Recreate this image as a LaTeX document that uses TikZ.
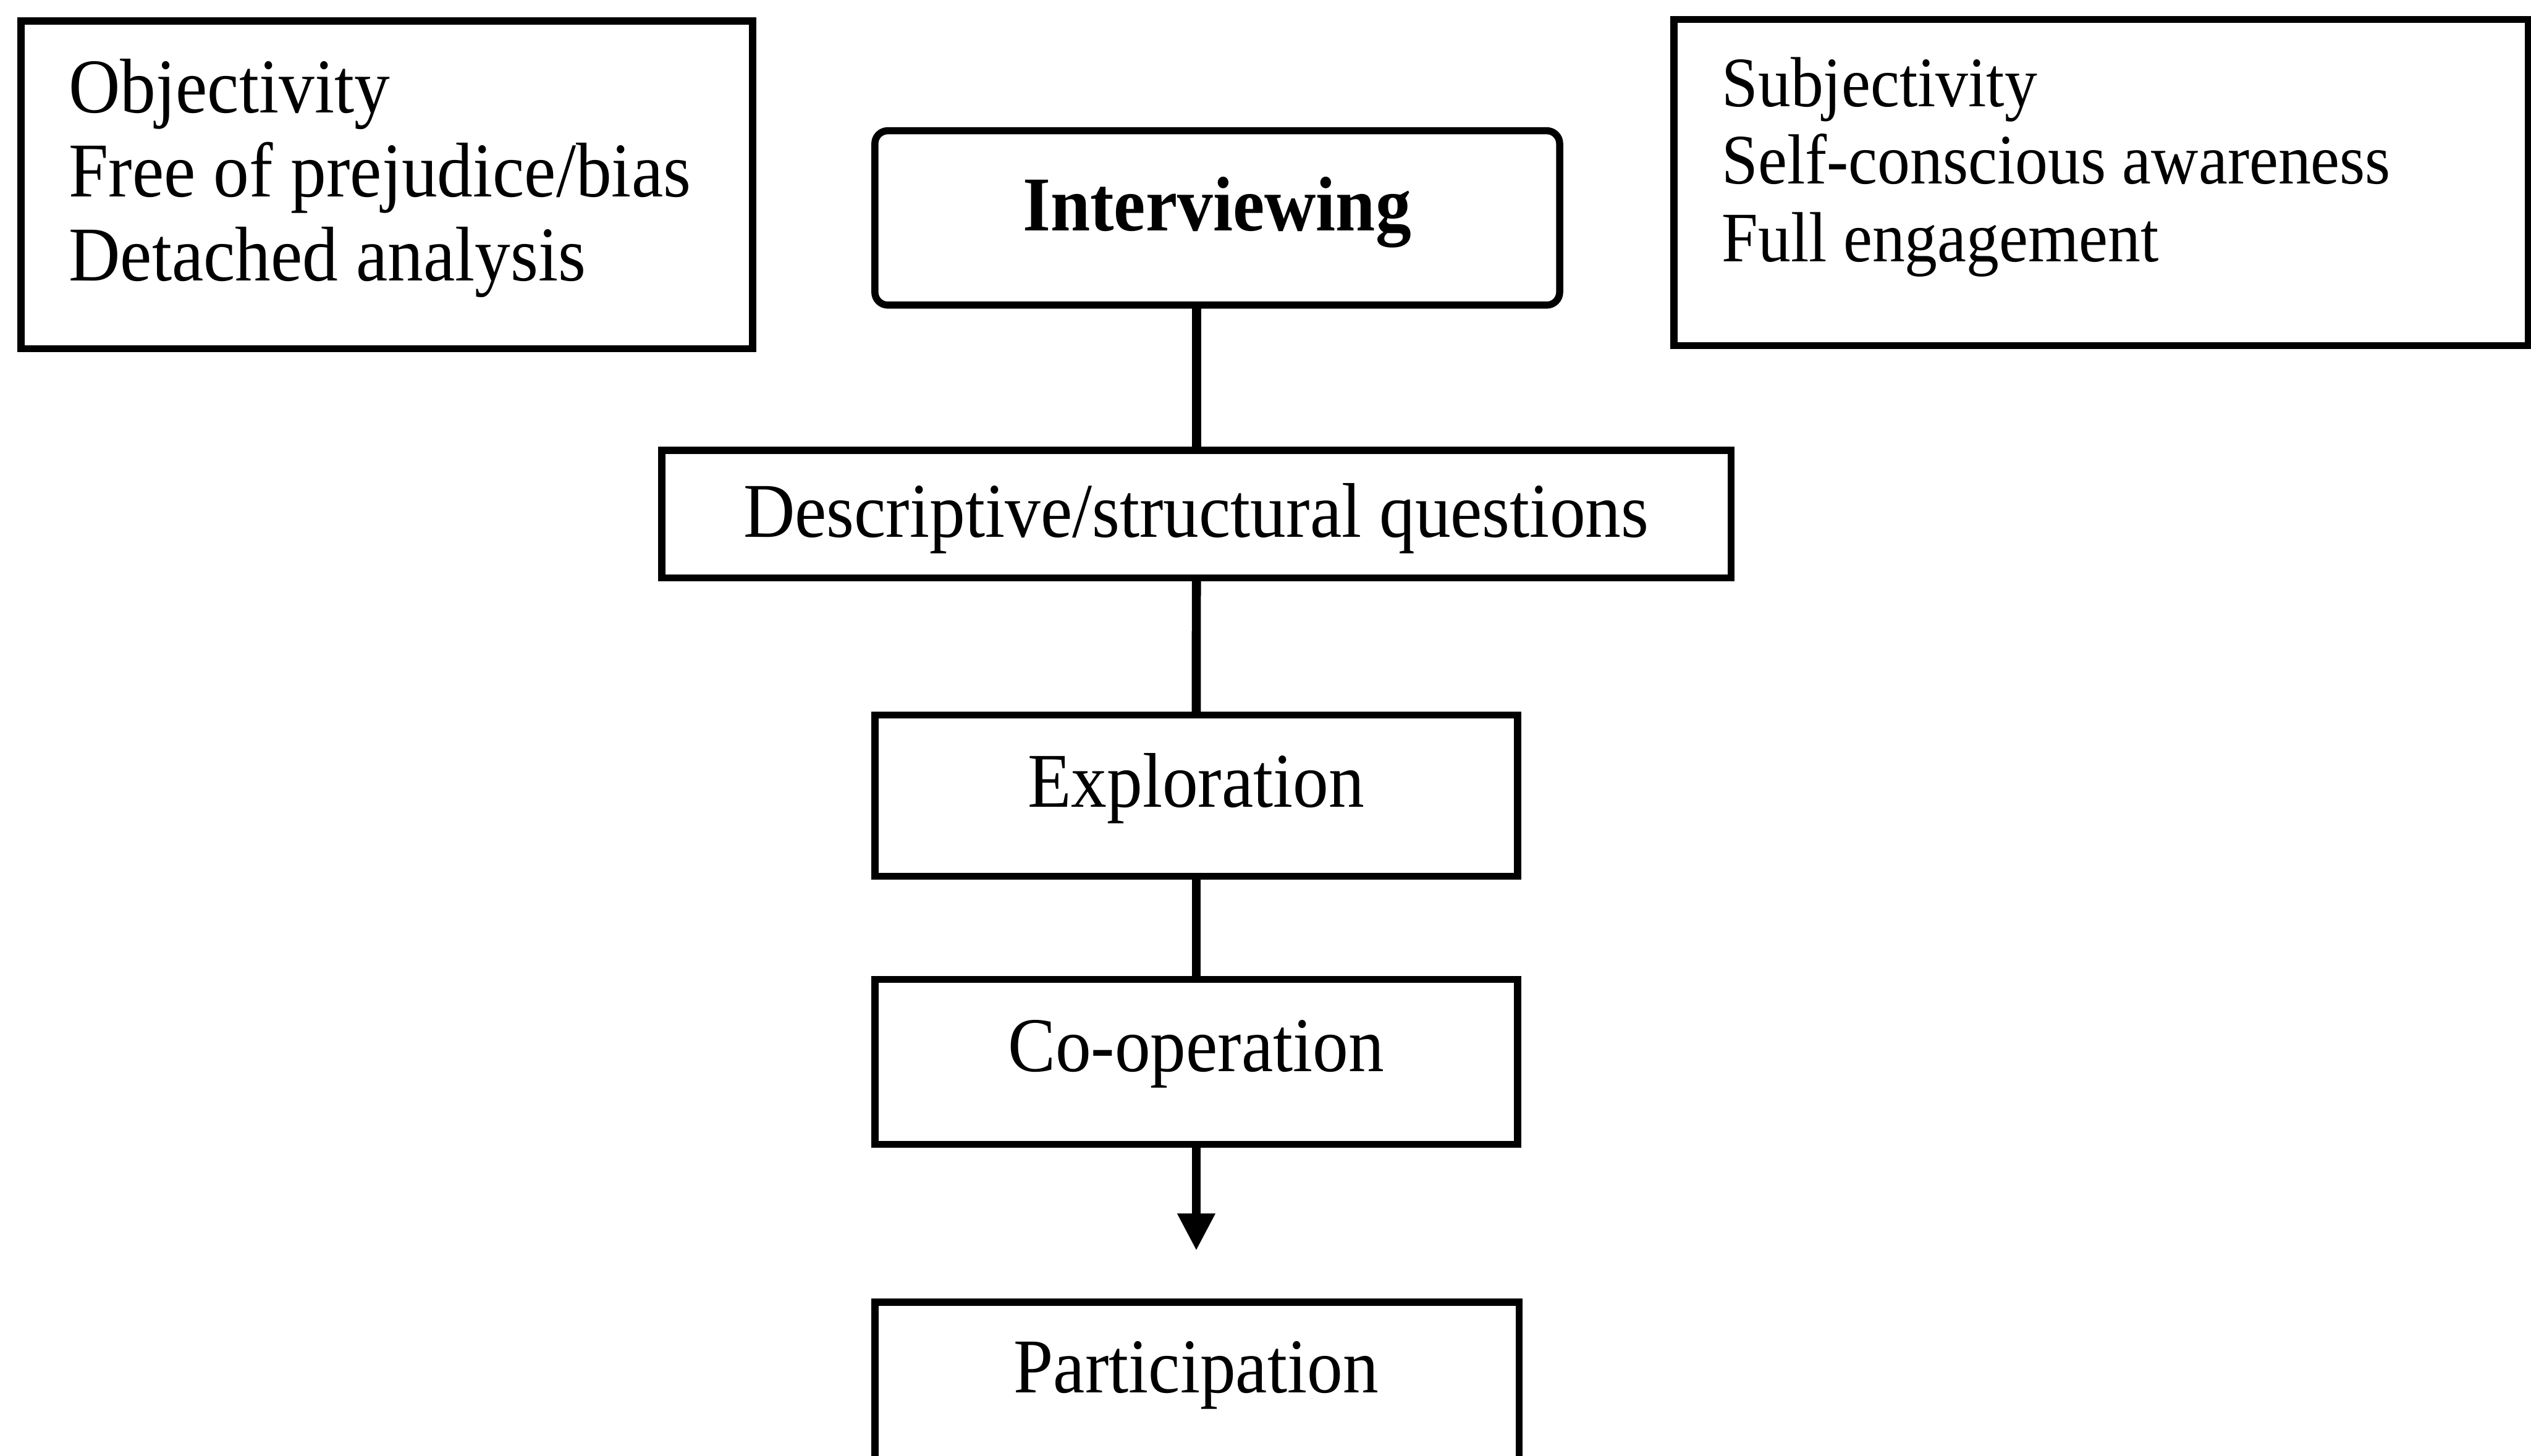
\documentclass[tikz,border=0pt]{standalone}
\usepackage{fontspec}
\setmainfont{Liberation Serif}[FakeStretch=0.92]
\usetikzlibrary{arrows.meta}
\begin{document}
\begin{tikzpicture}[x=0.01cm,y=-0.01cm,
  frame/.style={draw, line width=1.25pt, inner sep=0pt, outer sep=0pt, anchor=north west},
  roundframe/.style={frame, rounded corners=0.08cm},
  link/.style={line width=1.6pt},
  lbl/.style={inner sep=0pt, anchor=base, font=\fontsize{13.66pt}{14.8pt}\selectfont},
  sidelbl/.style={inner sep=0pt, anchor=base west, font=\fontsize{13.66pt}{14.8pt}\selectfont},
  sidelblsmall/.style={inner sep=0pt, anchor=base west, font=\fontsize{12.5pt}{13.7pt}\selectfont}
]
\useasboundingbox (0,0) rectangle (1568,902);
\clip (0,0) rectangle (1568,902);

% side boxes
\node[frame, minimum width=4.53cm, minimum height=2.03cm] (objbox) at (13,13) {};
\node[sidelbl] (obj1) at (42,70) {Objectivity};
\node[sidelbl] (obj2) at (42,122) {Free of prejudice/bias};
\node[sidelbl] (obj3) at (42,174) {Detached analysis};

\node[frame, minimum width=5.29cm, minimum height=2.02cm] (subjbox) at (1037,12) {};
\node[sidelblsmall] (subj1) at (1066,66) {Subjectivity};
\node[sidelblsmall] (subj2) at (1066,114) {Self-conscious awareness};
\node[sidelblsmall] (subj3) at (1066,162) {Full engagement};

% central column
\node[roundframe, minimum width=4.24cm, minimum height=1.08cm] (interv) at (542,81) {};
\node[lbl, font=\fontsize{13.66pt}{14.8pt}\selectfont\bfseries] (intervtext) at (754,143) {Interviewing};

\node[frame, minimum width=6.62cm, minimum height=0.79cm] (desc) at (410,279) {};
\node[lbl] (desctext) at (741,333) {Descriptive/structural questions};

\node[frame, minimum width=3.98cm, minimum height=1.00cm] (expl) at (542,443) {};
\node[lbl] (expltext) at (741,500) {Exploration};

\node[frame, minimum width=3.98cm, minimum height=1.02cm] (coop) at (542,607) {};
\node[lbl] (cooptext) at (741,664) {Co-operation};

\node[frame, minimum width=3.99cm, minimum height=1.50cm] (part) at (542,807) {};
\node[lbl] (parttext) at (741,863) {Participation};

\coordinate (tip) at (741,775);

% connectors
\draw[link] (interv.south -| desc.north) -- (desc.north);
\draw[link] (desc.south) -- (expl.north);
\draw[link] (expl.south) -- (coop.north);
\draw[link, -{Triangle[length=0.23cm, width=0.22cm]}] (coop.south) -- (coop.south |- tip);
\end{tikzpicture}
\end{document}
